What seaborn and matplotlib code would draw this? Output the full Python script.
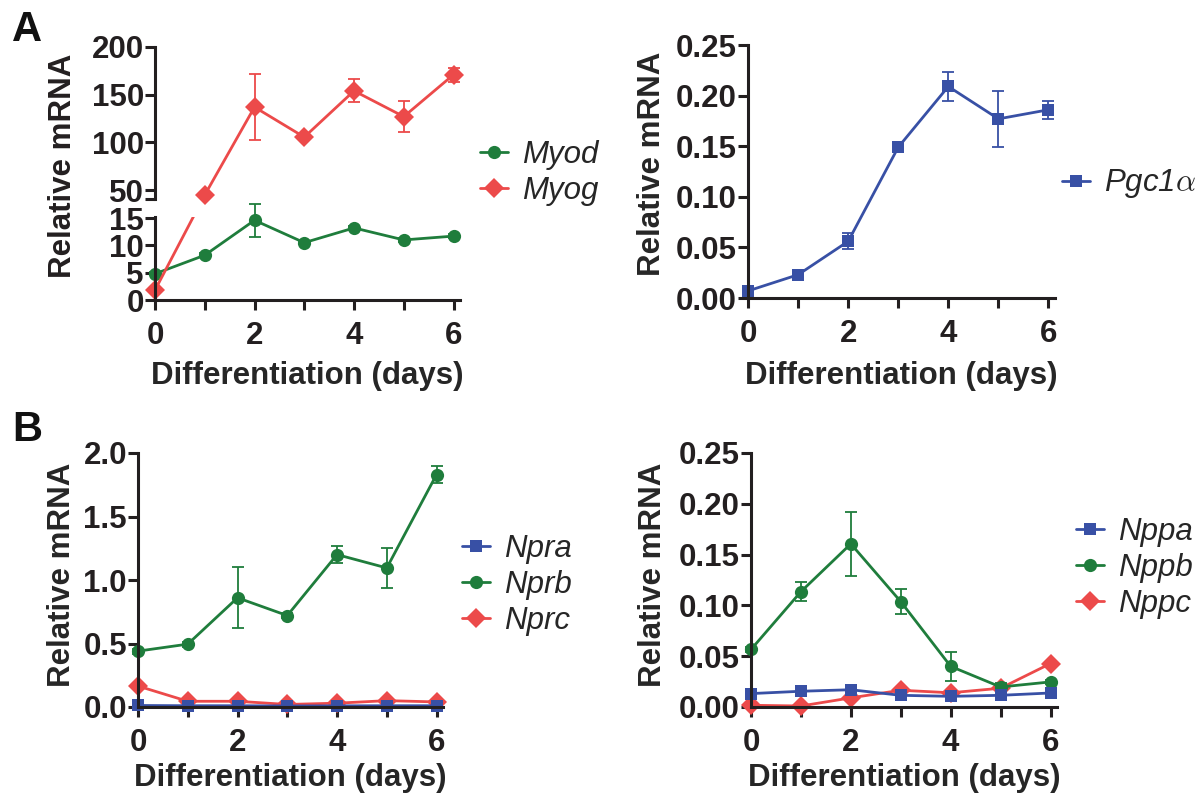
import numpy as np
import pandas as pd
import matplotlib
matplotlib.use("Agg")
import matplotlib.pyplot as plt
import seaborn as sns
from matplotlib.lines import Line2D

# ---------------- data ----------------
days = [0, 1, 2, 3, 4, 5, 6]

myod = [4.8, 8.2, 14.6, 10.5, 13.2, 11.0, 11.7]
myod_sem = [0.3, 0.4, 3.0, 0.3, 0.3, 0.3, 0.3]
myog = [1.8, 44.8, 137.0, 105.5, 154.0, 127.0, 171.0]
myog_sem = [0.5, 2.0, 35.0, 2.0, 12.0, 16.0, 7.5]

pgc1a = [0.007, 0.023, 0.056, 0.149, 0.209, 0.177, 0.186]
pgc1a_sem = [0.001, 0.002, 0.008, 0.002, 0.014, 0.028, 0.009]

npra = [0.012, 0.010, 0.010, 0.008, 0.009, 0.010, 0.010]
nprb = [0.44, 0.495, 0.86, 0.72, 1.20, 1.095, 1.83]
nprb_sem = [0.02, 0.02, 0.24, 0.02, 0.065, 0.155, 0.065]
nprc = [0.165, 0.045, 0.045, 0.02, 0.03, 0.05, 0.04]

nppa = [0.0132, 0.0155, 0.017, 0.0115, 0.0105, 0.0115, 0.0138]
nppb = [0.0566, 0.1135, 0.1606, 0.1037, 0.040, 0.0197, 0.0247]
nppb_sem = [0.002, 0.0095, 0.0315, 0.012, 0.014, 0.004, 0.002]
nppc = [0.0017, 0.001, 0.009, 0.0165, 0.014, 0.0185, 0.0428]

RED = "#EC4A4A"
GREEN = "#1F7D3C"
BLUE = "#3850A5"

# ---------------- style ----------------
sns.set_theme(style="ticks")
plt.rcParams["font.family"] = ["Liberation Sans", "DejaVu Sans"]
plt.rcParams["font.weight"] = "bold"
plt.rcParams["axes.labelweight"] = "bold"
plt.rcParams["mathtext.fontset"] = "cm"

W, H = 1202, 802
fig = plt.figure(figsize=(W / 100, H / 100), dpi=100)

TICK_FS = 22.5
LAB_FS = 22.5
LEG_FS = 22.5
LW = 2.0
SPW = 2.2


def box(l, t, r, b):
    return fig.add_axes([l / W, 1 - b / H, (r - l) / W, (b - t) / H])


def style(ax, xaxis=True):
    for s in ["top", "right"]:
        ax.spines[s].set_visible(False)
    ax.spines["left"].set_linewidth(SPW)
    ax.spines["bottom"].set_linewidth(SPW)
    ax.spines["left"].set_color("#231F20")
    ax.spines["bottom"].set_color("#231F20")
    ax.tick_params(axis="both", which="both", direction="out", width=SPW,
                   color="#231F20", labelsize=TICK_FS, labelcolor="#231F20")
    ax.tick_params(axis="y", length=7, pad=1)
    ax.tick_params(axis="x", length=7, pad=8)
    ax.set_xlim(0, 6.13)
    if xaxis:
        ax.set_xticks(days)
        ax.set_xticklabels([str(d) if d % 2 == 0 else "" for d in days])
    else:
        ax.spines["bottom"].set_visible(False)
        ax.set_xticks([])
    ax.set_facecolor("none")


def series(ax, y, color, marker, ms, err=None):
    sns.lineplot(x=days, y=y, ax=ax, color=color, linewidth=LW, marker=marker,
                 markersize=ms, markeredgewidth=0, clip_on=False, legend=False,
                 errorbar=None)
    if err is not None:
        ax.errorbar(days, y, yerr=err, fmt="none", ecolor=color, elinewidth=1.3,
                    capsize=4, capthick=1.3, clip_on=False)


def xlabel(ax, ycenter):
    ax.set_xlabel("Differentiation (days)", fontsize=LAB_FS)
    ax.xaxis.label.set_verticalalignment("center")
    pos = ax.get_position()
    yc = ((1 - ycenter / H) - pos.y0) / pos.height
    ax.xaxis.set_label_coords(0.5, yc)


def ylabel(ax, xcenter, ycenter):
    ax.set_ylabel("Relative mRNA", fontsize=LAB_FS)
    ax.yaxis.label.set_verticalalignment("center")
    pos = ax.get_position()
    xc = (xcenter / W - pos.x0) / pos.width
    yc = ((1 - ycenter / H) - pos.y0) / pos.height
    ax.yaxis.set_label_coords(xc, yc)


def legend(handles, labels, left, ycenter):
    fig.legend(handles, labels, loc="center left",
               bbox_to_anchor=(left / W, 1 - ycenter / H), frameon=False,
               prop=dict(family="Liberation Sans", style="italic",
                         weight="normal", size=LEG_FS),
               handlelength=0.88, handletextpad=0.45, labelspacing=0.18,
               borderpad=0, borderaxespad=0)


def h(color, marker, ms):
    return Line2D([], [], color=color, marker=marker, markersize=ms,
                  markeredgewidth=0, linewidth=LW)


# ---------------- panel A left (broken axis) ----------------
lo = box(155, 217, 460, 300)
hi = box(155, 47, 460, 199)
LO_MAX, HI_MIN = 15.2, 40.6
lo.set_ylim(0, LO_MAX)
hi.set_ylim(HI_MIN, 200)
style(lo)
style(hi, xaxis=False)
lo.set_yticks([0, 5, 10, 15])
hi.set_yticks([HI_MIN, 50, 100, 150, 200])
hi.set_yticklabels(["", "50", "100", "150", "200"])

series(lo, myod, GREEN, "o", 9.5, myod_sem)
for a in (lo, hi):
    a.set_xlim(0, 6.13)

# Myog spans the break: map every point to display space, then back into each axes
disp = []
for d, v in zip(days, myog):
    ax_ = lo if v <= LO_MAX else hi
    disp.append(ax_.transData.transform((d, v)))
disp = np.array(disp)
y_lo = lo.transData.inverted().transform(disp)[:, 1]
y_hi = hi.transData.inverted().transform(disp)[:, 1]
sns.lineplot(x=days, y=y_lo, ax=lo, color=RED, linewidth=LW, legend=False, errorbar=None)
sns.lineplot(x=days, y=y_hi, ax=hi, color=RED, linewidth=LW, legend=False, errorbar=None)
in_lo = [v <= LO_MAX for v in myog]
lo.plot([d for d, k in zip(days, in_lo) if k], [v for v, k in zip(myog, in_lo) if k],
        linestyle="none", marker="D", markersize=10.5, markeredgewidth=0, color=RED, clip_on=False)
hi.plot([d for d, k in zip(days, in_lo) if not k], [v for v, k in zip(myog, in_lo) if not k],
        linestyle="none", marker="D", markersize=10.5, markeredgewidth=0, color=RED, clip_on=False)
hi.errorbar([d for d, k in zip(days, in_lo) if not k], [v for v, k in zip(myog, in_lo) if not k],
            yerr=[s for s, k in zip(myog_sem, in_lo) if not k], fmt="none", ecolor=RED,
            elinewidth=1.3, capsize=4, capthick=1.3)
xlabel(lo, 376)
fig.text(63 / W, 1 - 166 / H, "Relative mRNA", rotation=90, ha="center", va="center",
         fontsize=LAB_FS, fontweight="bold", color="#231F20")
legend([h(GREEN, "o", 9.5), h(RED, "D", 10.5)], ["Myod", "Myog"], 480, 173)

# ---------------- panel A right ----------------
ax2 = box(748, 45, 1055, 298)
style(ax2)
ax2.set_ylim(0, 0.25)
ax2.set_yticks([0, 0.05, 0.10, 0.15, 0.20, 0.25])
ax2.set_yticklabels(["0.00", "0.05", "0.10", "0.15", "0.20", "0.25"])
series(ax2, pgc1a, BLUE, "s", 9, pgc1a_sem)
ax2.set_xlim(0, 6.13)
xlabel(ax2, 376)
ylabel(ax2, 652, 164)
legend([h(BLUE, "s", 9)], [r"Pgc1$\alpha$"], 1062, 184)

# ---------------- panel B left ----------------
ax3 = box(138, 453, 443, 707)
style(ax3)
ax3.set_ylim(0, 2.0)
ax3.set_yticks([0, 0.5, 1.0, 1.5, 2.0])
ax3.set_yticklabels(["0.0", "0.5", "1.0", "1.5", "2.0"])
series(ax3, nprc, RED, "D", 10.5)
series(ax3, nprb, GREEN, "o", 9.5, nprb_sem)
series(ax3, npra, BLUE, "s", 9)
ax3.set_xlim(0, 6.13)
xlabel(ax3, 778)
ylabel(ax3, 62, 575)
legend([h(BLUE, "s", 9), h(GREEN, "o", 9.5), h(RED, "D", 10.5)],
       ["Npra", "Nprb", "Nprc"], 462, 585)

# ---------------- panel B right ----------------
ax4 = box(751, 453, 1057, 707)
style(ax4)
ax4.set_ylim(0, 0.25)
ax4.set_yticks([0, 0.05, 0.10, 0.15, 0.20, 0.25])
ax4.set_yticklabels(["0.00", "0.05", "0.10", "0.15", "0.20", "0.25"])
series(ax4, nppc, RED, "D", 10.5)
series(ax4, nppb, GREEN, "o", 9.5, nppb_sem)
series(ax4, nppa, BLUE, "s", 9)
ax4.set_xlim(0, 6.13)
xlabel(ax4, 778)
ylabel(ax4, 653, 575)
legend([h(BLUE, "s", 9), h(GREEN, "o", 9.5), h(RED, "D", 10.5)],
       ["Nppa", "Nppb", "Nppc"], 1076, 568)

# panel letters
fig.text(12 / W, 1 - 41 / H, "A", fontsize=30, fontweight="bold", va="baseline", color="#111111")
fig.text(12 / W, 1 - 441 / H, "B", fontsize=30, fontweight="bold", va="baseline", color="#111111")

fig.savefig("out.png", dpi=100, facecolor="white")
